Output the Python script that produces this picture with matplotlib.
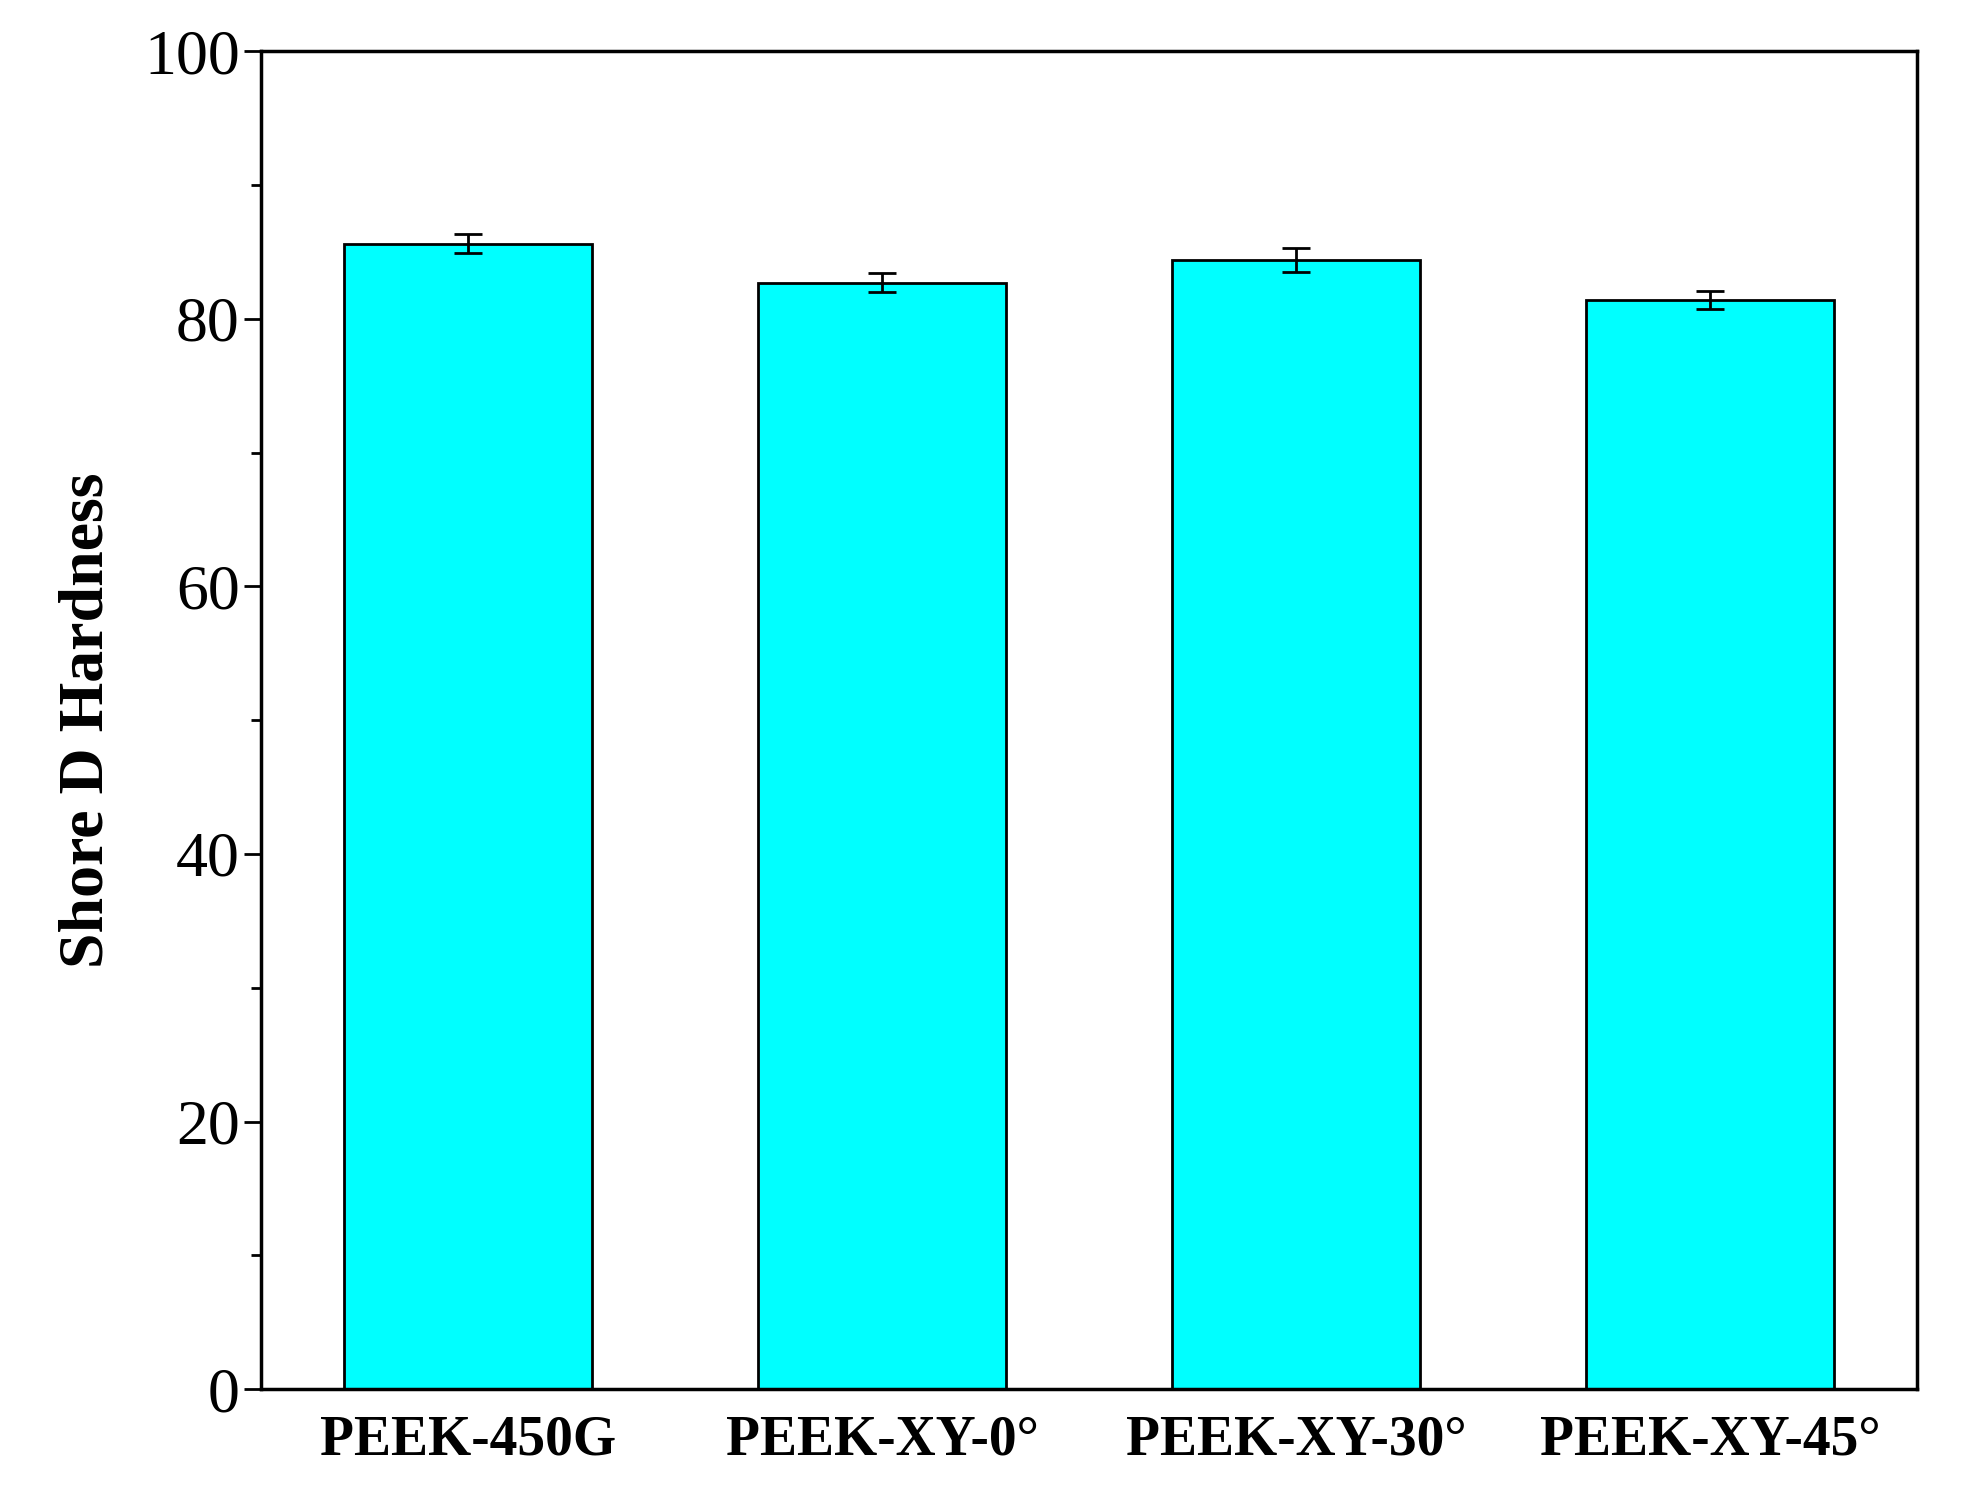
import matplotlib
matplotlib.use("Agg")
import matplotlib.pyplot as plt
from matplotlib.ticker import MultipleLocator

categories = ["PEEK-450G", "PEEK-XY-0°", "PEEK-XY-30°", "PEEK-XY-45°"]
values = [85.6, 82.7, 84.4, 81.4]
errors = [0.7, 0.7, 0.9, 0.7]

plt.rcParams['font.family'] = ['Liberation Serif', 'DejaVu Serif']
fig = plt.figure(figsize=(19.64, 15.05), dpi=100)
ax = fig.add_axes([0.133, 0.077, 0.843, 0.889])
x = range(len(categories))
ax.bar(x, values, width=0.6, color='#00FFFF', edgecolor='black', linewidth=2,
       yerr=errors, capsize=10, error_kw=dict(elinewidth=2, capthick=2, ecolor='black'))
ax.set_xlim(-0.5, 3.5)
ax.set_ylim(0, 100)
ax.set_xticks(list(x))
ax.set_xticklabels(categories, fontsize=40, fontweight='bold')
ax.tick_params(axis='x', length=0, pad=18)
ax.yaxis.set_major_locator(MultipleLocator(20))
ax.yaxis.set_minor_locator(MultipleLocator(10))
ax.tick_params(axis='y', which='major', labelsize=46, length=12, width=2, direction='out')
ax.tick_params(axis='y', which='minor', length=7, width=2, direction='out')
for s in ax.spines.values():
    s.set_linewidth(2.5)
ax.set_ylabel("Shore D Hardness", fontsize=46, fontweight='bold', labelpad=20)
fig.savefig("out.png", dpi=100)
